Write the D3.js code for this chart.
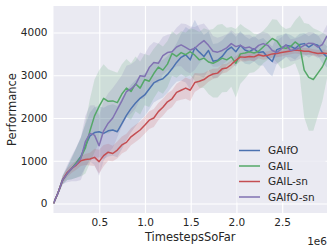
<!DOCTYPE html>
<html><head><meta charset="utf-8">
<script src="https://cdn.jsdelivr.net/npm/d3@7"></script>
<style>html,body{margin:0;padding:0;background:#fff;}svg{display:block;}</style>
</head><body>
<script>
// Timesteps (in units of 1e6), 61 evenly spaced samples from 0 to 2.99
const steps = d3.range(61).map(i => i * 2.99 / 60);

const seriesNames = ["GAIfO", "GAIL", "GAIL-sn", "GAIfO-sn"];
const seriesColors = ["#4C72B0", "#55A868", "#C44E52", "#8172B2"];

const gaifoMean = [0,250,550,700,820,950,1100,1350,1580,1660,1680,1640,1700,1720,1680,1870,2060,2220,2350,2460,2540,2680,2820,2880,2920,3020,3150,3300,3420,3480,3360,3650,3540,3440,3580,3330,3350,3440,3580,3660,3550,3700,3590,3550,3620,3530,3550,3420,3320,3600,3640,3700,3680,3620,3720,3740,3660,3730,3700,3530,3430];
const gaifoSd = [0,50,100,150,250,350,450,500,550,600,600,600,600,600,600,600,580,560,540,520,500,480,460,450,440,430,420,450,550,650,700,650,550,500,450,400,400,380,360,350,350,330,320,300,300,300,320,350,350,320,300,280,260,260,250,250,250,250,250,250,250];

const gailMean = [0,250,550,700,820,950,1080,1300,1700,2050,2270,2460,2390,2400,2360,2560,2700,2620,2800,2700,2900,2860,3040,3190,3120,3260,3510,3440,3530,3480,3550,3470,3360,3400,3310,3280,3330,3400,3360,3430,3280,3500,3520,3550,3520,3560,3660,3760,3860,3800,3650,3630,3670,3780,3700,3120,2950,2900,3050,3200,3430];
const gailSd = [0,50,100,150,250,350,450,600,750,850,850,800,750,700,700,700,680,660,640,620,600,600,580,560,550,540,520,500,500,520,550,600,650,700,750,800,850,800,750,700,800,700,600,500,450,400,380,400,450,500,500,450,450,500,700,1100,1250,1200,1000,800,500];

const gailSnMean = [0,250,550,720,820,900,1000,1030,1040,1080,980,1120,1200,1170,1250,1370,1430,1560,1640,1720,1830,1950,2000,2150,2250,2380,2450,2600,2650,2700,2650,2830,2860,2900,2980,3030,3050,3150,3170,3250,3350,3430,3420,3440,3430,3480,3450,3470,3500,3510,3530,3550,3570,3590,3580,3560,3560,3530,3510,3520,3510];
const gailSnSd = [0,40,80,100,100,110,120,130,150,200,280,250,200,180,200,200,200,200,200,200,200,210,210,200,200,200,200,200,220,250,250,220,180,150,130,120,110,110,100,100,100,100,100,100,100,90,90,90,90,90,90,80,80,80,80,80,80,80,80,80,80];

const gaifoSnMean = [0,250,550,700,820,920,1050,1450,1640,1600,1350,1700,1880,2000,2200,2400,2620,2680,2780,2990,2970,3180,3300,3280,3460,3530,3550,3660,3710,3650,3590,3630,3730,3810,3700,3560,3540,3580,3640,3740,3670,3700,3640,3660,3600,3700,3740,3700,3580,3530,3620,3710,3580,3600,3640,3700,3750,3740,3660,3720,3920];
const gaifoSnSd = [0,50,100,200,300,400,500,600,650,700,700,700,700,700,650,600,600,580,560,540,520,500,480,460,440,420,420,450,500,550,550,500,450,400,380,360,340,330,320,310,300,300,300,290,280,280,280,280,280,280,270,270,260,260,260,260,260,260,260,260,260];

const yTicks = [0, 1000, 2000, 3000, 4000];
const xTicks = [0.5, 1.0, 1.5, 2.0, 2.5];

const means = [gaifoMean, gailMean, gailSnMean, gaifoSnMean];
const sds = [gaifoSd, gailSd, gailSnSd, gaifoSnSd];

const W = 333, H = 250;
const svg = d3.select("body").append("svg").attr("width", W).attr("height", H);
const mL = 53.5, mR = 327, mT = 6, mB = 213;

const x = d3.scaleLinear().domain([0, 2.99]).range([mL, mR]);
const y = d3.scaleLinear().domain([-222, 4620]).range([mB, mT]);

svg.append("rect").attr("x", mL).attr("y", mT).attr("width", mR-mL).attr("height", mB-mT).attr("fill", "#EAEAF2");

const font = "DejaVu Sans, sans-serif";
const txt = "#262626";

// grid
const gx = svg.append("g").attr("transform", `translate(0,${mB})`)
  .call(d3.axisBottom(x).tickValues(xTicks).tickSize(-(mB-mT)).tickPadding(6).tickFormat(d3.format(".1f")));
const gy = svg.append("g").attr("transform", `translate(${mL},0)`)
  .call(d3.axisLeft(y).tickValues(yTicks).tickSize(-(mR-mL)).tickPadding(6).tickFormat(d3.format("d")));
[gx, gy].forEach(g => {
  g.select(".domain").remove();
  g.selectAll(".tick line").attr("stroke", "#fff").attr("stroke-width", 1.2);
  g.selectAll(".tick text").attr("fill", txt).style("font-family", font).style("font-size", "10.5px");
});

const clip = svg.append("clipPath").attr("id", "c").append("rect")
  .attr("x", mL).attr("y", mT).attr("width", mR-mL).attr("height", mB-mT);
const plot = svg.append("g").attr("clip-path", "url(#c)");

const area = d3.area().x((d,i) => x(steps[i])).y0(d => y(d[0])).y1(d => y(d[1]));
const line = d3.line().x((d,i) => x(steps[i])).y(d => y(d));

means.forEach((m, k) => {
  const band = m.map((v, i) => [v - sds[k][i], v + sds[k][i]]);
  plot.append("path").attr("d", area(band)).attr("fill", seriesColors[k]).attr("fill-opacity", 0.18);
});
means.forEach((m, k) => {
  plot.append("path").attr("d", line(m)).attr("fill", "none").attr("stroke", seriesColors[k])
    .attr("stroke-width", 1.5).attr("stroke-linejoin", "round");
});

// legend
const lg = svg.append("g");
lg.append("rect").attr("x", 236.5).attr("y", 141).attr("width", 89).attr("height", 61.5)
  .attr("fill", "#EAEAF2").attr("fill-opacity", 0.85);
seriesNames.forEach((n, k) => {
  const yy = 150.5 + k * 15.5;
  lg.append("line").attr("x1", 239).attr("x2", 260).attr("y1", yy).attr("y2", yy)
    .attr("stroke", seriesColors[k]).attr("stroke-width", 1.5);
  lg.append("text").attr("x", 268).attr("y", yy).attr("dy", "0.35em").text(n)
    .attr("fill", txt).style("font-family", font).style("font-size", "10.5px");
});

// axis labels
svg.append("text").attr("x", (mL+mR)/2).attr("y", 237).attr("dy", "0.35em").attr("text-anchor", "middle")
  .text("TimestepsSoFar").attr("fill", txt).style("font-family", font).style("font-size", "11.5px");
svg.append("text").attr("transform", `translate(11.5,${(mT+mB)/2}) rotate(-90)`).attr("dy", "0.35em")
  .attr("text-anchor", "middle").text("Performance").attr("fill", txt).style("font-family", font).style("font-size", "11.5px");
svg.append("text").attr("x", mR).attr("y", 241.5).attr("dy", "0.35em").attr("text-anchor", "end")
  .text("1e6").attr("fill", txt).style("font-family", font).style("font-size", "10.5px");
</script>
</body></html>
